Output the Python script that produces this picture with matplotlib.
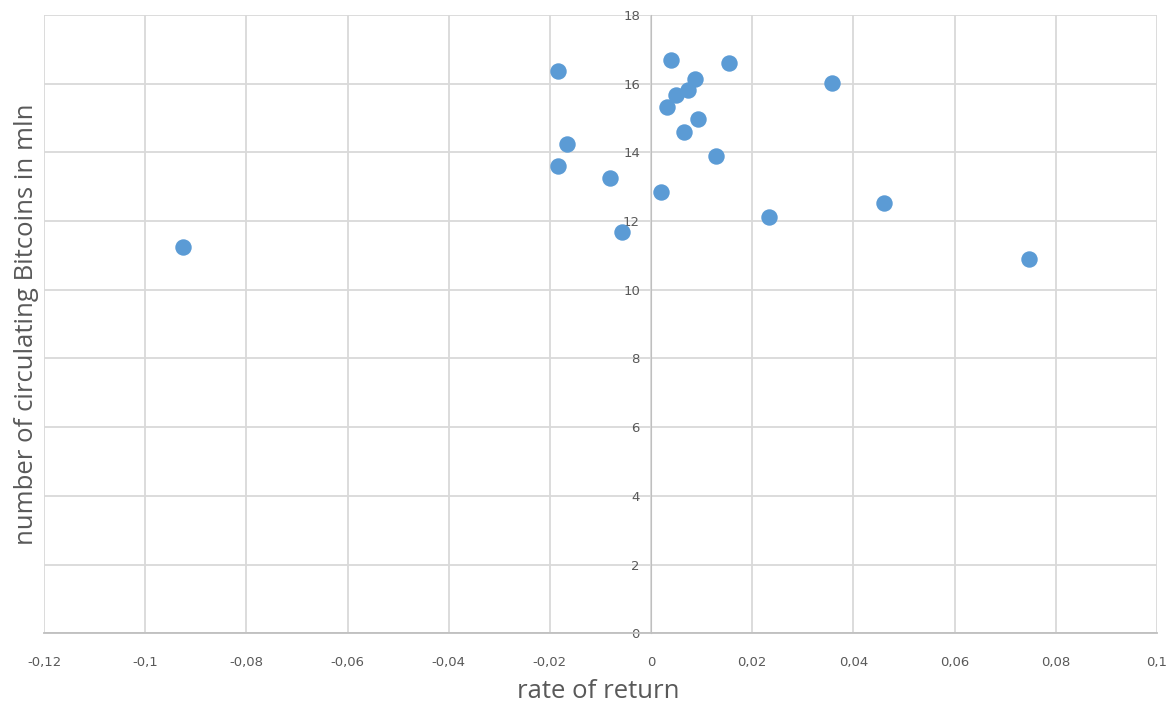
import matplotlib.pyplot as plt

# rate of return vs circulating bitcoins (mln)
rate_of_return = [-0.0925, -0.0184, -0.0166, -0.0184, -0.0081, -0.0057,
                  0.0020, 0.0032, 0.0040, 0.0050, 0.0066, 0.0073,
                  0.0086, 0.0093, 0.0129, 0.0154, 0.0233, 0.0357,
                  0.0460, 0.0747]
btc_mln = [11.24, 16.36, 14.24, 13.61, 13.26, 11.69,
           12.86, 15.33, 16.69, 15.68, 14.59, 15.81,
           16.15, 14.98, 13.90, 16.61, 12.13, 16.01,
           12.53, 10.91]

x_ticks = [-0.12, -0.1, -0.08, -0.06, -0.04, -0.02, 0, 0.02, 0.04, 0.06, 0.08, 0.1]
x_labels = ['-0,12', '-0,1', '-0,08', '-0,06', '-0,04', '-0,02', '0',
            '0,02', '0,04', '0,06', '0,08', '0,1']
y_ticks = [0, 2, 4, 6, 8, 10, 12, 14, 16, 18]

fig = plt.figure(figsize=(11.71, 7.06), dpi=100)
ax = fig.add_axes([0.0376, 0.103, 0.9504, 0.8758])

ax.scatter(rate_of_return, btc_mln, s=140, color='#5B9BD5', zorder=3, linewidths=0)

ax.set_xlim(-0.12, 0.1)
ax.set_ylim(0, 18)
ax.set_xticks(x_ticks)
ax.set_xticklabels(x_labels)
ax.set_yticks(y_ticks)

ax.grid(True, color='#d9d9d9', linewidth=1.3)
ax.set_axisbelow(True)

# y axis crosses at x=0 like excel
ax.spines['left'].set_position(('data', 0))
ax.spines['left'].set_color('#bfbfbf')
ax.spines['left'].set_zorder(2)
ax.spines['bottom'].set_color('#bfbfbf')
ax.spines['bottom'].set_linewidth(1.3)
ax.spines['top'].set_visible(False)
ax.spines['right'].set_visible(False)

ax.tick_params(axis='both', length=0, labelsize=9.5, labelcolor='#595959')
ax.tick_params(axis='x', pad=16)
ax.tick_params(axis='y', pad=8)

fig.text(0.511, 0.02, 'rate of return', ha='center', va='center',
         fontsize=18.5, color='#595959', family='Open Sans')
fig.text(0.023, 0.541, 'number of circulating Bitcoins in mln', rotation=90,
         ha='center', va='center', fontsize=18.5, color='#595959', family='Open Sans')

fig.savefig('out.png', dpi=100)
